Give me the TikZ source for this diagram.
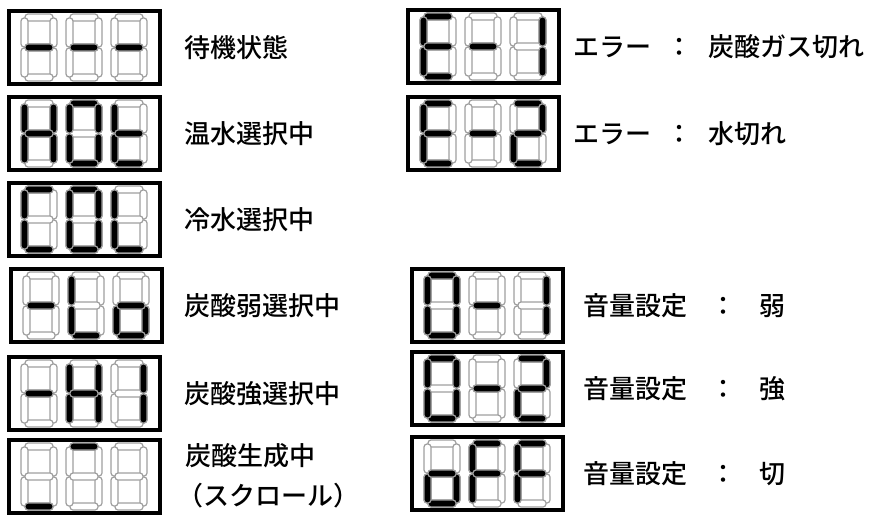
\documentclass[tikz,border=0pt]{standalone}
\usepackage{fontspec}
\newfontfamily\jpfont{Noto Sans CJK JP Medium}
\usetikzlibrary{positioning}

\def\sega{(4,0) rectangle (32,7)}
\def\segb{(29,4) rectangle (36,33)}
\def\segc{(29,34) rectangle (36,63)}
\def\segd{(4,60) rectangle (32,67)}
\def\sege{(0,34) rectangle (7,63)}
\def\segf{(0,4) rectangle (7,33)}
\def\segg{(4,30) rectangle (32,37)}
\def\segx{}

\tikzset{
	segoff/.style = {draw = gray!75, line width = 1.2pt, fill = white, rounded corners = 3pt},
	segon/.style = {segoff, fill = black},
	frame/.style = {draw, black, line width = 3.5pt, minimum width = 151pt, minimum height = 73pt, inner sep = 0pt, outer sep = 0pt, anchor = north west},
	desc/.style = {inner sep = 0pt, font = \jpfont\fontsize{26}{30}\selectfont}
}

\newcommand{\digit}[3]{%
	\foreach \s in {a,b,c,d,e,f,g} \draw[segoff, shift = {(#1,#2)}] \csname seg\s\endcsname;
	\foreach \s in {#3} \draw[segon, shift = {(#1,#2)}] \csname seg\s\endcsname;
}
\newcommand{\panel}[6]{%
	\node[frame] (#1) at (#2,#3) {};
	\digit{#2+12}{#3+3}{#4}
	\digit{#2+57}{#3+3}{#5}
	\digit{#2+102}{#3+3}{#6}
}

\begin{document}
\begin{tikzpicture}[x = 1pt, y = -1pt]
	\useasboundingbox (0,0) rectangle (880,519);
	
	\panel{wait}{9}{11}{g}{g}{g}
	\panel{hot}{9}{97}{b,c,e,f,g}{a,b,c,d,e,f}{d,e,f,g}
	\panel{cold}{9}{183}{a,d,e,f}{a,b,c,d,e,f}{d,e,f}
	\panel{weak}{11}{269}{g}{d,e,f}{c,d,e,g}
	\panel{strong}{9}{357}{g}{b,c,e,f,g}{b,c}
	\panel{scroll}{9}{440}{d}{a}{x}
	
	\panel{errgas}{408}{10}{a,d,e,f,g}{g}{b,c}
	\panel{errwater}{408}{97}{a,d,e,f,g}{g}{a,b,d,e,g}
	\panel{volweak}{412}{269}{a,b,c,d,e,f}{g}{b,c}
	\panel{volstrong}{412}{352}{a,b,c,d,e,f}{g}{a,b,d,e,g}
	\panel{voloff}{412}{437}{c,d,e,g}{a,e,f,g}{a,e,f,g}
	
	\node[desc, right = 24pt of wait] (twait) {待機状態};
	\node[desc, right = 24pt of hot] (thot) {温水選択中};
	\node[desc, right = 24pt of cold] (tcold) {冷水選択中};
	\node[desc, right = 22pt of weak] (tweak) {炭酸弱選択中};
	\node[desc, right = 24pt of strong] (tstrong) {炭酸強選択中};
	\node[desc, anchor = west] (tscroll) at (185,456) {炭酸生成中};
	\node[desc, anchor = west] (tscroll2) at (177,496) {（スクロール）};
	
	\node[desc, right = 14pt of errgas] (terrgas) {エラー\hspace{.6em}：\hspace{.6em}炭酸ガス切れ};
	\node[desc, right = 14pt of errwater] (terrwater) {エラー\hspace{.6em}：\hspace{.6em}水切れ};
	\node[desc, right = 20pt of volweak] (tvolweak) {音量設定\hspace{.9em}：\hspace{.9em}弱};
	\node[desc, right = 20pt of volstrong] (tvolstrong) {音量設定\hspace{.9em}：\hspace{.9em}強};
	\node[desc, right = 20pt of voloff] (tvoloff) {音量設定\hspace{.9em}：\hspace{.9em}切};
\end{tikzpicture}
\end{document}
